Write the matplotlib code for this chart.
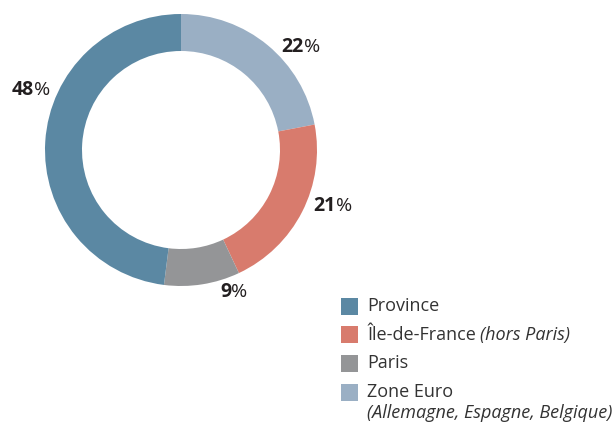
import matplotlib.pyplot as plt
from matplotlib.patches import Rectangle

plt.rcParams['font.family'] = ['Open Sans', 'DejaVu Sans']

# data, clockwise from the top
labels = ['Zone Euro', 'Île-de-France', 'Paris', 'Province']
values = [22, 21, 9, 48]
colors = ['#9aafc4', '#d87b6d', '#949597', '#5b88a3']

# legend order and texts (regular part, italic part)
legend_order = [3, 1, 2, 0]
legend_main = ['Province', 'Île-de-France ', 'Paris', 'Zone Euro']
legend_italic = ['', '(hors Paris)', '', '']
legend_extra = ['', '', '', '(Allemagne, Espagne, Belgique)']

# percent label anchors (pixel coords, y down)
label_pos = [(301, 47), (333, 206), (234, 292), (31, 90)]

W, H = 616, 425
fig = plt.figure(figsize=(W / 100, H / 100), dpi=100)
ax = fig.add_axes([0, 0, 1, 1])

cx, cy, r = 181, H - 150, 136
ax.pie(values, colors=colors, startangle=90, counterclock=False,
       center=(cx, cy), radius=r, frame=True,
       wedgeprops=dict(width=37, linewidth=0))
ax.set_xlim(0, W)
ax.set_ylim(0, H)
ax.set_aspect('equal')
ax.axis('off')

fig.canvas.draw()
renderer = fig.canvas.get_renderer()
inv = ax.transData.inverted()


def text_width(t):
    bb = t.get_window_extent(renderer)
    p0 = inv.transform((bb.x0, bb.y0))
    p1 = inv.transform((bb.x1, bb.y0))
    return p1[0] - p0[0]


txt_color = '#231f20'
for v, (x, y) in zip(values, label_pos):
    num = ax.text(0, 0, str(v), fontsize=14, fontweight='bold', color=txt_color)
    pc = ax.text(0, 0, '%', fontsize=14, color=txt_color)
    wn, wp = text_width(num), text_width(pc)
    left = x - (wn + wp) / 2
    num.set_position((left, H - y))
    num.set_va('center')
    pc.set_position((left + wn, H - y))
    pc.set_va('center')

# legend
lx, ly0, dy = 341, 306, 28.7
fs = 13
for k, i in enumerate(legend_order):
    y = H - (ly0 + k * dy)
    ax.add_patch(Rectangle((lx, y - 8.5), 17, 17, facecolor=colors[i], linewidth=0))
    t = ax.text(lx + 26, y, legend_main[k], fontsize=fs, color='#333333', va='center')
    if legend_italic[k]:
        w = text_width(t)
        ax.text(lx + 26 + w, y, legend_italic[k], fontsize=fs, style='italic',
                color='#333333', va='center')
    if legend_extra[k]:
        ax.text(lx + 26, y - 21, legend_extra[k], fontsize=fs, style='italic',
                color='#333333', va='center')

fig.savefig('out.png', dpi=100)
